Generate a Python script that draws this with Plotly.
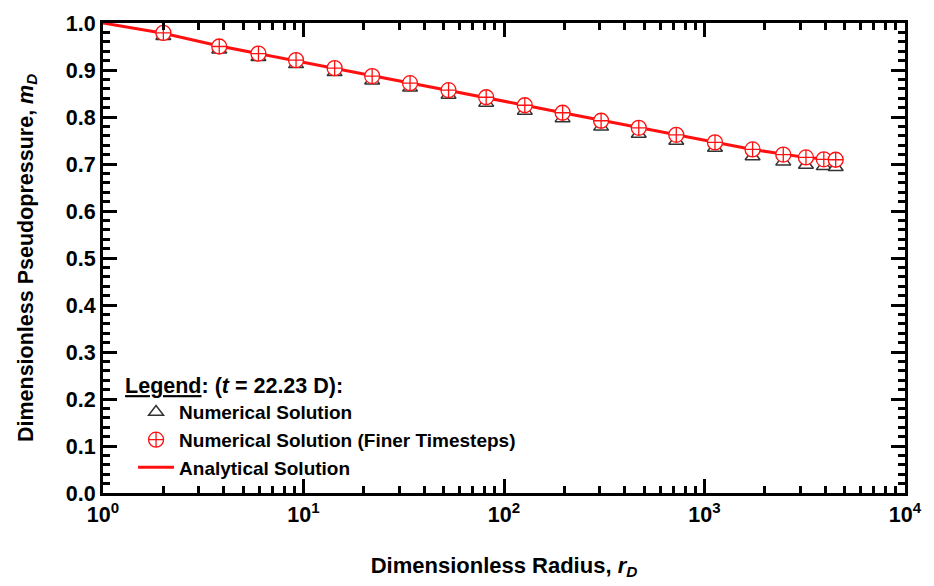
import plotly.graph_objects as go

# ---- data ----
r_num = [2.0, 3.8, 5.96, 9.18, 14.3, 22.0, 34.0, 52.9, 81.5, 127, 196, 305, 470, 723,
         1128, 1737, 2471, 3206, 3936, 4512]
m_fine = [0.979, 0.950, 0.935, 0.921, 0.904, 0.887, 0.872, 0.857, 0.842, 0.825, 0.809,
          0.792, 0.777, 0.762, 0.746, 0.731, 0.720, 0.714, 0.710, 0.709]
m_num = [0.972, 0.943, 0.927, 0.912, 0.895, 0.877, 0.862, 0.847, 0.830, 0.813, 0.797,
         0.779, 0.764, 0.749, 0.734, 0.716, 0.705, 0.698, 0.695, 0.693]
r_ana = [1.0, 2.0, 3.8, 5.96, 9.18, 14.3, 22.0, 34.0, 52.9, 81.5, 127, 196, 305, 470, 723,
         1128, 1737, 2471, 3206, 3936, 4512]
m_ana = [1.0, 0.978, 0.951, 0.935, 0.920, 0.904, 0.888, 0.872, 0.857, 0.841, 0.825, 0.809,
         0.793, 0.777, 0.762, 0.746, 0.731, 0.721, 0.714, 0.711, 0.709]

x_tickvals = [1, 10, 100, 1000, 10000]
x_ticktext = ["10<sup>0</sup>", "10<sup>1</sup>", "10<sup>2</sup>", "10<sup>3</sup>", "10<sup>4</sup>"]
x_minor = [m * 10 ** e for e in range(4) for m in range(2, 10)]

FONT = "Arial, 'Liberation Sans', sans-serif"
RED = "#ff1010"

fig = go.Figure()
fig.add_trace(go.Scatter(
    x=r_ana, y=m_ana, mode="lines", name="Analytical Solution",
    line=dict(color=RED, width=3), legendrank=3))
fig.add_trace(go.Scatter(
    x=r_num, y=m_num, mode="markers", name="Numerical Solution",
    marker=dict(symbol="triangle-up", size=13, color="white",
                line=dict(color="#333333", width=1.5)), legendrank=1))
fig.add_trace(go.Scatter(
    x=r_num, y=m_fine, mode="markers", name="Numerical Solution (Finer Timesteps)",
    marker=dict(symbol="circle-cross", size=15, color="white",
                line=dict(color=RED, width=1.3)), legendrank=2))

axis_common = dict(
    showline=True, linecolor="black", linewidth=3, mirror="allticks",
    ticks="inside", ticklen=14, tickwidth=3, tickcolor="black",
    showgrid=False, zeroline=False,
    tickfont=dict(size=21.5, family=FONT, color="black", weight="bold"),
)

fig.update_xaxes(
    type="log", range=[0, 4], tickmode="array", tickvals=x_tickvals, ticktext=x_ticktext,
    title=dict(text="Dimensionless Radius, <i>r</i><sub><i>D</i></sub>",
               font=dict(size=22, family=FONT, color="black", weight="bold"), standoff=32),
    minor=dict(ticks="inside", ticklen=7, tickwidth=2.5, tickcolor="black",
               tickmode="array", tickvals=x_minor, showgrid=False),
    **axis_common)
fig.update_yaxes(
    range=[0, 1], dtick=0.1, tick0=0, tickformat=".1f",
    title=dict(text="Dimensionless Pseudopressure, <i>m</i><sub><i>D</i></sub>",
               font=dict(size=21.5, family=FONT, color="black", weight="bold"), standoff=27),
    minor=dict(ticks="inside", ticklen=7, tickwidth=2.5, tickcolor="black",
               dtick=0.02, showgrid=False),
    **axis_common)

fig.update_layout(
    width=934, height=586,
    margin=dict(l=103, r=19, t=17, b=93),
    paper_bgcolor="white", plot_bgcolor="white",
    font=dict(family=FONT, color="black", weight="bold"),
    legend=dict(
        x=0.025, y=0.272, xanchor="left", yanchor="top",
        bgcolor="rgba(0,0,0,0)", borderwidth=0,
        font=dict(size=19, family=FONT, color="black", weight="bold"),
        title=dict(text="<u>Legend</u>: (<i>t</i> = 22.23 D):",
                   font=dict(size=21.5, family=FONT, color="black", weight="bold")),
        traceorder="normal", itemwidth=36, indentation=10,
    ),
)

fig.write_html("out.html")
